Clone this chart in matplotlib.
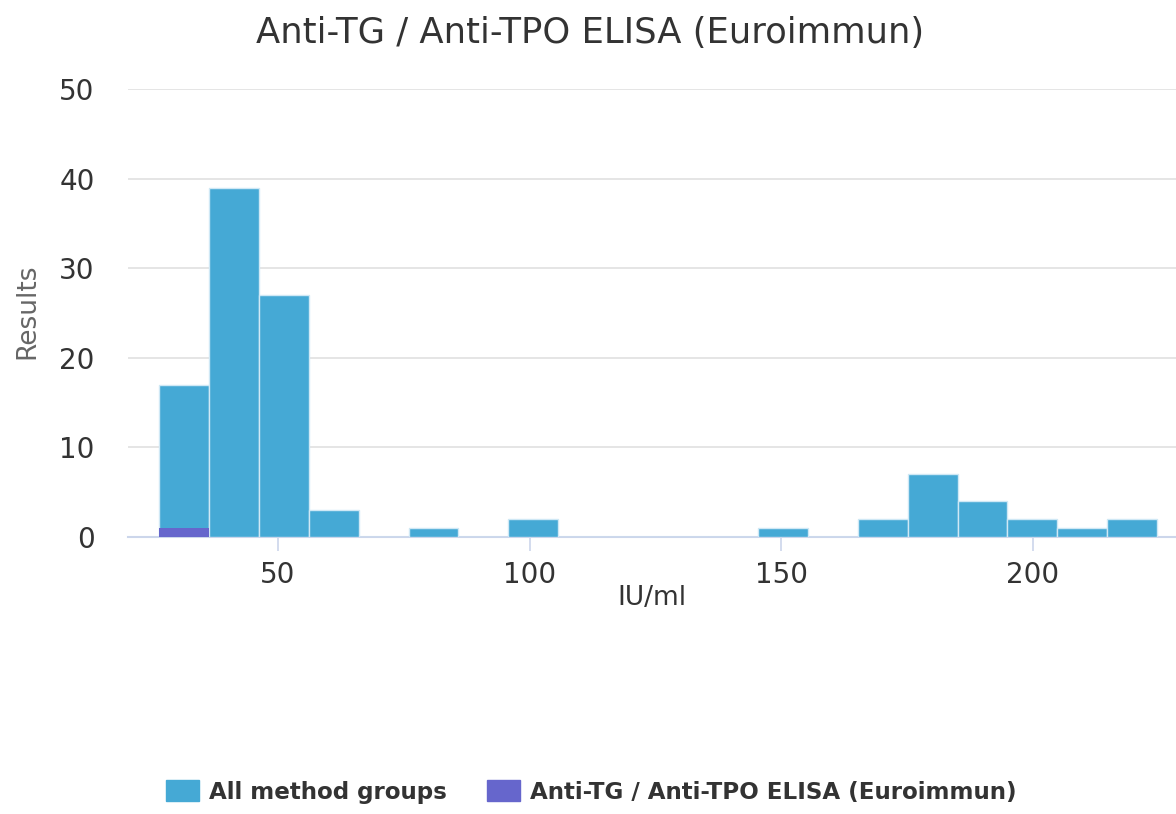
import numpy as np
import matplotlib
matplotlib.use("Agg")
import matplotlib.pyplot as plt

# histogram data (20 bins)
bin_start = 26.35
bin_width = 9.92
all_counts = [17, 39, 27, 3, 0, 1, 0, 2, 0, 0, 0, 0, 1, 0, 2, 7, 4, 2, 1, 2]
method_counts = [1, 0, 0, 0, 0, 0, 0, 0, 0, 0, 0, 0, 0, 0, 0, 0, 0, 0, 0, 0]
x_ticks = [50, 100, 150, 200]
y_ticks = [0, 10, 20, 30, 40, 50]

title = "Anti-TG / Anti-TPO ELISA (Euroimmun)"
series_names = ["All method groups", "Anti-TG / Anti-TPO ELISA (Euroimmun)"]

blue = "#45a9d5"
purple = "#6666cc"

edges = bin_start + bin_width * np.arange(len(all_counts) + 1)
lefts = edges[:-1]

fig = plt.figure(figsize=(11.76, 8.14), dpi=100)
ax = fig.add_axes([128 / 1176, 1 - 537 / 814, 1 - 128 / 1176, (537 - 89) / 814])

ax.bar(lefts, all_counts, width=bin_width, align="edge", color=blue,
       edgecolor="#cfe8f5", linewidth=1, zorder=3)
ax.bar(lefts, method_counts, width=bin_width, align="edge", color=purple,
       edgecolor="none", linewidth=0, zorder=4)

ax.set_xlim(20.18, 228.5)
ax.set_ylim(0, 50)
ax.set_xticks(x_ticks)
ax.set_yticks(y_ticks)
ax.grid(axis="y", color="#e0e0e0", linewidth=1.2, zorder=0)
ax.set_axisbelow(True)

for s in ["top", "right", "left"]:
    ax.spines[s].set_visible(False)
ax.spines["bottom"].set_color("#ccd6eb")
ax.spines["bottom"].set_linewidth(1.5)

ax.tick_params(axis="x", length=10, width=1.2, color="#ccd6eb", pad=7,
               labelsize=20, labelcolor="#333333")
ax.tick_params(axis="y", length=0, pad=24, labelsize=20, labelcolor="#333333")

ax.set_xlabel("IU/ml", fontsize=19, color="#333333", va="center")
ax.xaxis.set_label_coords(0.5, -0.136)
ax.set_ylabel("Results", fontsize=19, color="#666666", va="center")
ax.yaxis.set_label_coords(-0.0964, 0.504)

fig.text(0.502, 1 - 33 / 814, title, ha="center", va="center", fontsize=25.5,
         color="#333333")

# legend
handles = [plt.Rectangle((0, 0), 1, 1, color=blue),
           plt.Rectangle((0, 0), 1, 1, color=purple)]
leg = fig.legend(handles, series_names, loc="center", bbox_to_anchor=(0.503, 0.027),
                 ncol=2, frameon=False, handlelength=1.4, handleheight=1.0,
                 columnspacing=1.75, handletextpad=0.45,
                 prop={"weight": "bold", "size": 16.6})
for t in leg.get_texts():
    t.set_color("#333333")

fig.savefig("out.png", dpi=100)
